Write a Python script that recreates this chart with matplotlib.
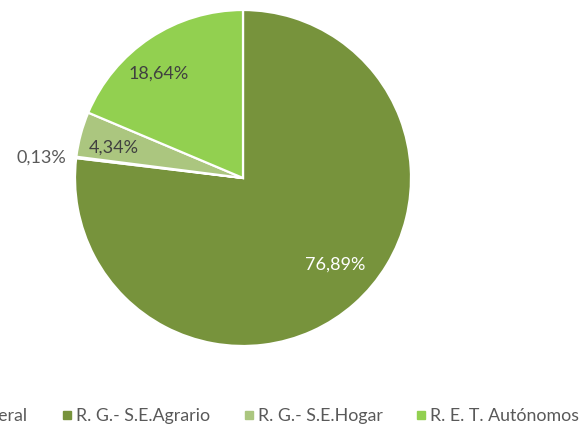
import matplotlib
matplotlib.use("Agg")
import matplotlib.pyplot as plt
from matplotlib import patches

# data, clockwise from the top
categories = ["R. G.- S.E.Agrario", "R. General", "R. G.- S.E.Hogar", "R. E. T. Autónomos"]
values = [76.89, 0.13, 4.34, 18.64]
colors = ["#77933C", "#4F6228", "#ABC67F", "#92D050"]
legend_order = ["R. General", "R. G.- S.E.Agrario", "R. G.- S.E.Hogar", "R. E. T. Autónomos"]

# label positions (data coords, pie radius = 1) and colours
label_pos = [(0.55, -0.51), (-1.20, 0.13), (-0.77, 0.185), (-0.50, 0.63)]
label_col = ["#FFFFFF", "#595959", "#404040", "#404040"]

plt.rcParams["font.family"] = ["Lato", "DejaVu Sans"]

fig = plt.figure(figsize=(5.87, 4.27), dpi=100)
cx, cy, r = 243, 179, 168
W, H = 587, 427
ax = fig.add_axes([(cx - r) / W, (H - cy - r) / H, 2 * r / W, 2 * r / H])

wedges, _ = ax.pie(values, colors=colors, startangle=90, counterclock=False,
                   radius=1, wedgeprops=dict(edgecolor="white", linewidth=1.6))
ax.set_xlim(-1, 1)
ax.set_ylim(-1, 1)
ax.set_aspect("equal")
ax.axis("off")

for v, (x, y), c in zip(values, label_pos, label_col):
    ax.text(x, y, f"{v:.2f}%".replace(".", ","), ha="center", va="center",
            fontsize=13, color=c, clip_on=False)

# legend, laid out by hand (first entry runs off the left edge, as in the source)
leg_x = [-67, 63, 245, 417]
leg_y = 416
for name, x in zip(legend_order, leg_x):
    col = colors[categories.index(name)]
    fig.patches.append(patches.Rectangle((x / W, (H - leg_y - 4) / H), 8 / W, 8 / H,
                                         transform=fig.transFigure, color=col))
    fig.text((x + 13) / W, (H - leg_y) / H, name, ha="left", va="center",
             fontsize=12.8, color="#595959")

fig.savefig("out.png", dpi=100)
